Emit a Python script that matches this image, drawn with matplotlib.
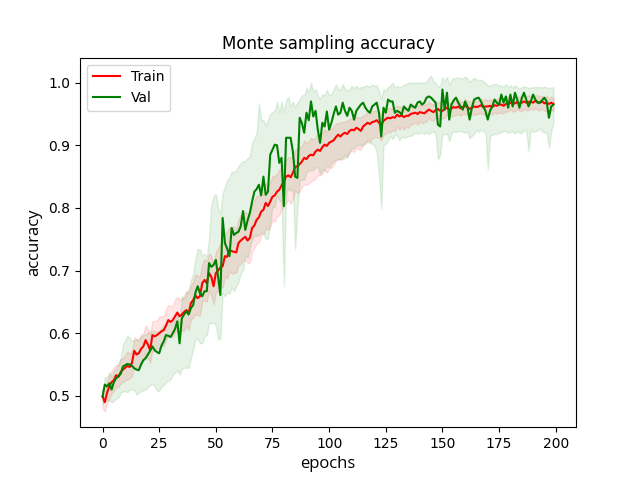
import matplotlib
matplotlib.use("Agg")
import matplotlib.pyplot as plt
import numpy as np

epochs = list(range(200))

train_mean = [
0.499,0.490,0.505,0.515,0.522,0.525,0.533,0.530,0.538,0.542,
0.545,0.548,0.546,0.553,0.572,0.566,0.568,0.575,0.579,0.589,
0.582,0.573,0.597,0.595,0.597,0.600,0.603,0.605,0.612,0.621,
0.618,0.621,0.627,0.633,0.627,0.630,0.634,0.637,0.632,0.648,
0.653,0.660,0.656,0.659,0.680,0.685,0.680,0.696,0.690,0.675,
0.696,0.700,0.705,0.707,0.723,0.722,0.733,0.731,0.730,0.729,
0.744,0.748,0.751,0.754,0.748,0.752,0.768,0.772,0.781,0.785,
0.794,0.797,0.808,0.803,0.810,0.818,0.820,0.826,0.829,0.836,
0.842,0.850,0.852,0.849,0.856,0.866,0.866,0.870,0.874,0.880,
0.878,0.883,0.885,0.884,0.890,0.893,0.891,0.897,0.901,0.899,
0.904,0.906,0.908,0.913,0.917,0.914,0.918,0.920,0.918,0.923,
0.925,0.924,0.928,0.926,0.923,0.930,0.933,0.936,0.934,0.937,
0.938,0.940,0.936,0.933,0.939,0.942,0.944,0.943,0.945,0.944,
0.949,0.946,0.948,0.945,0.947,0.947,0.950,0.951,0.952,0.950,
0.953,0.952,0.951,0.954,0.957,0.955,0.953,0.956,0.958,0.955,
0.955,0.958,0.960,0.957,0.959,0.961,0.960,0.962,0.959,0.961,
0.963,0.961,0.958,0.960,0.962,0.961,0.962,0.964,0.961,0.962,
0.962,0.963,0.961,0.964,0.963,0.965,0.965,0.963,0.966,0.967,
0.968,0.966,0.967,0.969,0.967,0.968,0.970,0.968,0.969,0.970,
0.968,0.971,0.969,0.968,0.970,0.967,0.968,0.966,0.968,0.966]

train_dev_lo = [
.018,.015,.016,.020,.018,.017,.019,.016,.018,.020,
.020,.022,.018,.021,.024,.020,.022,.019,.023,.021,
.022,.020,.025,.023,.021,.024,.022,.026,.023,.025,
.024,.027,.025,.028,.024,.026,.029,.025,.027,.026,
.028,.030,.027,.031,.029,.032,.030,.028,.031,.029,
.031,.033,.030,.034,.032,.035,.033,.036,.034,.032,
.035,.037,.034,.038,.036,.039,.037,.035,.038,.040,
.037,.039,.041,.038,.040,.037,.042,.039,.041,.038,
.040,.042,.039,.043,.041,.038,.042,.044,.040,.043,
.041,.044,.042,.040,.043,.041,.039,.042,.040,.043,
.040,.042,.039,.037,.040,.036,.038,.035,.037,.034,
.033,.035,.031,.033,.030,.028,.031,.027,.029,.026,
.025,.027,.024,.026,.022,.024,.021,.023,.020,.022,
.019,.021,.018,.020,.017,.019,.016,.018,.015,.017,
.015,.017,.014,.016,.013,.015,.014,.012,.015,.013,
.012,.014,.011,.013,.012,.014,.011,.013,.012,.011,
.013,.012,.014,.011,.013,.012,.011,.013,.012,.014,
.011,.013,.012,.011,.013,.012,.014,.011,.012,.013,
.011,.012,.013,.011,.012,.014,.011,.012,.013,.011,
.012,.011,.013,.012,.011,.012,.013,.011,.012,.011]

train_dev_hi = [
.012,.018,.020,.017,.018,.020,.016,.019,.021,.018,
.020,.023,.021,.019,.022,.025,.020,.023,.021,.024,
.024,.026,.022,.025,.023,.027,.024,.022,.026,.024,
.026,.023,.027,.025,.028,.024,.026,.030,.032,.028,
.030,.034,.036,.032,.030,.033,.035,.031,.034,.036,
.034,.036,.038,.035,.037,.040,.036,.038,.041,.037,
.038,.041,.037,.040,.043,.039,.036,.040,.038,.035,
.036,.033,.031,.034,.030,.033,.031,.029,.032,.030,
.030,.027,.029,.031,.028,.026,.029,.027,.025,.028,
.026,.024,.027,.025,.023,.026,.024,.022,.025,.023,
.022,.020,.023,.021,.019,.022,.020,.018,.021,.019,
.018,.020,.017,.019,.021,.018,.016,.019,.017,.018,
.017,.015,.018,.016,.014,.017,.015,.016,.014,.016,
.014,.016,.013,.015,.014,.012,.015,.013,.014,.012,
.013,.011,.014,.012,.013,.011,.012,.014,.011,.013,
.010,.012,.009,.011,.010,.012,.009,.011,.010,.009,
.011,.010,.012,.009,.011,.010,.009,.011,.010,.012,
.009,.011,.010,.009,.011,.010,.012,.009,.010,.011,
.009,.010,.011,.009,.010,.012,.009,.010,.011,.009,
.010,.009,.011,.010,.009,.010,.011,.009,.010,.009]

val_mean = [
0.499,0.518,0.515,0.520,0.510,0.522,0.528,0.532,0.535,0.547,
0.549,0.551,0.550,0.548,0.544,0.542,0.541,0.550,0.557,0.560,
0.566,0.572,0.579,0.573,0.570,0.568,0.580,0.587,0.597,0.596,
0.594,0.600,0.607,0.619,0.584,0.624,0.630,0.635,0.630,0.640,
0.645,0.665,0.675,0.664,0.659,0.667,0.667,0.712,0.706,0.709,
0.717,0.690,0.661,0.784,0.744,0.735,0.723,0.768,0.757,0.760,
0.762,0.771,0.795,0.765,0.780,0.792,0.810,0.826,0.830,0.837,
0.820,0.850,0.821,0.826,0.885,0.893,0.901,0.900,0.872,0.880,
0.803,0.912,0.912,0.912,0.890,0.850,0.848,0.944,0.935,0.920,
0.952,0.940,0.970,0.946,0.955,0.925,0.904,0.936,0.930,0.954,
0.925,0.936,0.950,0.962,0.949,0.952,0.968,0.955,0.947,0.960,
0.955,0.941,0.955,0.960,0.965,0.968,0.960,0.955,0.952,0.962,
0.965,0.968,0.952,0.914,0.960,0.952,0.973,0.970,0.970,0.952,
0.955,0.953,0.949,0.962,0.958,0.955,0.965,0.962,0.960,0.968,
0.970,0.965,0.968,0.976,0.978,0.976,0.972,0.968,0.933,0.930,
0.989,0.957,0.984,0.941,0.965,0.972,0.976,0.968,0.962,0.957,
0.970,0.962,0.941,0.960,0.973,0.975,0.976,0.970,0.962,0.955,
0.941,0.955,0.962,0.973,0.968,0.965,0.981,0.968,0.978,0.960,
0.981,0.962,0.984,0.973,0.960,0.975,0.984,0.973,0.962,0.970,
0.981,0.973,0.968,0.968,0.972,0.976,0.970,0.944,0.962,0.965]

val_dev_lo = [
.012,.025,.022,.028,.020,.030,.032,.035,.030,.040,
.042,.045,.040,.038,.035,.040,.036,.042,.048,.050,
.052,.055,.060,.058,.062,.060,.065,.070,.075,.072,
.068,.066,.070,.078,.050,.080,.085,.090,.085,.080,
.070,.075,.085,.080,.075,.072,.070,.095,.090,.092,
.105,.100,.070,.120,.085,.070,.060,.095,.090,.085,
.080,.075,.095,.040,.060,.055,.060,.070,.075,.080,
.060,.090,.070,.075,.110,.090,.100,.080,.060,.070,
.128,.090,.080,.085,.060,.117,.050,.100,.090,.075,
.095,.080,.110,.085,.090,.060,.050,.075,.070,.085,
.060,.065,.075,.085,.070,.075,.090,.075,.065,.070,
.060,.045,.055,.060,.065,.068,.055,.050,.048,.060,
.065,.080,.100,.115,.060,.050,.065,.055,.060,.035,
.040,.045,.035,.050,.045,.040,.050,.045,.040,.050,
.050,.045,.050,.055,.060,.055,.050,.050,.056,.045,
.070,.040,.065,.035,.045,.050,.055,.045,.040,.035,
.050,.040,.030,.045,.055,.050,.055,.045,.040,.035,
.080,.040,.045,.055,.050,.045,.060,.045,.055,.040,
.060,.040,.065,.050,.040,.055,.060,.050,.072,.045,
.060,.050,.045,.040,.050,.055,.050,.048,.040,.030]

val_dev_hi = [
.010,.012,.015,.018,.020,.018,.015,.020,.025,.035,
.040,.045,.042,.040,.045,.048,.050,.045,.040,.038,
.035,.030,.025,.030,.032,.035,.028,.025,.020,.022,
.020,.018,.015,.010,.030,.035,.025,.030,.040,.045,
.050,.055,.060,.070,.065,.060,.055,.040,.100,.110,
.105,.110,.130,.040,.090,.110,.125,.090,.100,.100,
.105,.100,.080,.110,.100,.090,.095,.085,.090,.130,
.120,.090,.110,.115,.065,.060,.055,.070,.080,.090,
.150,.060,.065,.050,.080,.110,.120,.030,.045,.060,
.040,.045,.030,.040,.035,.055,.070,.045,.050,.035,
.055,.045,.040,.035,.040,.038,.030,.035,.040,.030,
.040,.050,.040,.030,.028,.025,.035,.040,.042,.035,
.030,.028,.035,.060,.030,.035,.020,.025,.030,.040,
.040,.040,.045,.035,.040,.045,.035,.038,.040,.032,
.030,.035,.032,.025,.030,.035,.030,.032,.060,.065,
.020,.045,.025,.055,.040,.035,.032,.040,.045,.050,
.040,.045,.060,.045,.035,.030,.028,.035,.040,.045,
.055,.040,.035,.025,.030,.030,.015,.025,.020,.032,
.015,.030,.012,.020,.030,.018,.010,.020,.030,.022,
.012,.020,.025,.025,.020,.018,.022,.048,.030,.028]

x = np.array(epochs)
tm = np.array(train_mean)
vm = np.array(val_mean)

fig, ax = plt.subplots(figsize=(6.4, 4.8), dpi=100)
ax.fill_between(x, tm - np.array(train_dev_lo), tm + np.array(train_dev_hi),
                color='red', alpha=0.1)
ax.fill_between(x, vm - np.array(val_dev_lo), vm + np.array(val_dev_hi),
                color='green', alpha=0.1)
ax.plot(x, tm, color='red', linewidth=1.5, label='Train')
ax.plot(x, vm, color='green', linewidth=1.5, label='Val')
ax.set_ylim(0.45, 1.04)
ax.set_title('Monte sampling accuracy')
ax.set_xlabel('epochs', fontsize=12, family='Open Sans')
ax.set_ylabel('accuracy', fontsize=12, family='Open Sans')
ax.legend(loc='upper left')
fig.savefig('out.png')
